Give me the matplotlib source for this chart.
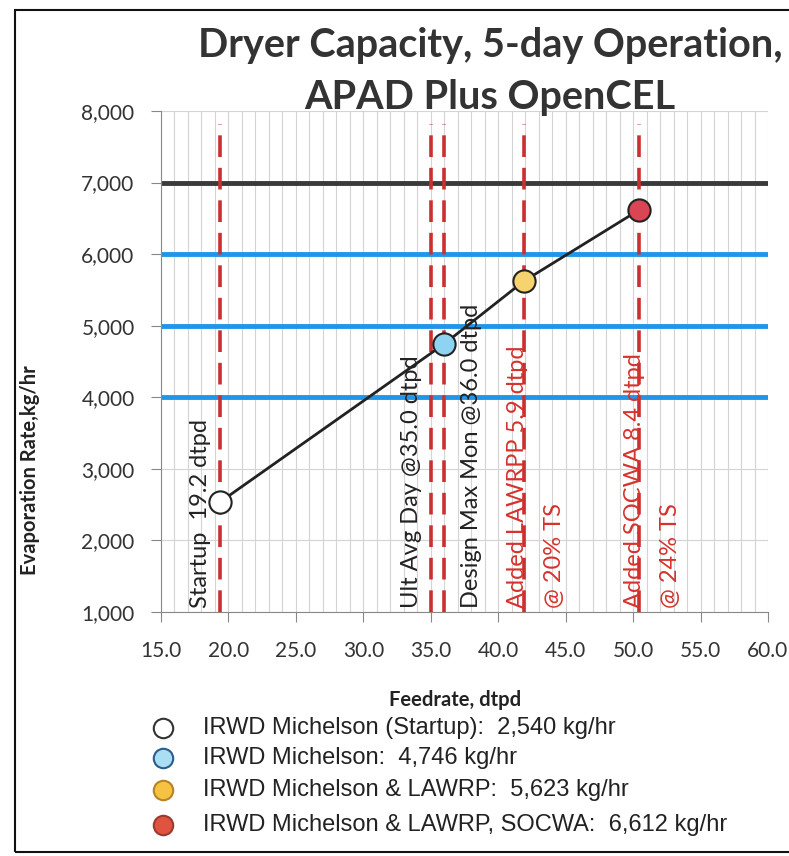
import numpy as np
import matplotlib
matplotlib.use("Agg")
import matplotlib.pyplot as plt
from matplotlib.lines import Line2D
from matplotlib.patches import Rectangle

# data
feed = [19.4, 36.0, 41.9, 50.4]          # dtpd
evap = [2540, 4746, 5623, 6612]          # kg/hr
face = ['#ffffff', '#8fd3f2', '#f6d36e', '#d94552']
edge = ['#222222', '#222222', '#222222', '#222222']
leg_face = ['#ffffff', '#a9def5', '#f5c242', '#e0533f']
leg_edge = ['#333333', '#2b5c8a', '#b5832a', '#9a3a30']
leg_text = ['IRWD Michelson (Startup):  2,540 kg/hr',
            'IRWD Michelson:  4,746 kg/hr',
            'IRWD Michelson & LAWRP:  5,623 kg/hr',
            'IRWD Michelson & LAWRP, SOCWA:  6,612 kg/hr']

vlines = [19.4, 35.0, 36.0, 41.9, 50.4]
cap_black = [7000]
cap_blue = [4000, 5000, 6000]

labels = [  # x, text, colour
    (17.9, 'Startup  19.2 dtpd', '#222222'),
    (33.6, 'Ult Avg Day @35.0 dtpd', '#222222'),
    (38.0, 'Design Max Mon @36.0 dtpd', '#222222'),
    (41.4, 'Added LAWRPP 5.9 dtpd', '#d6322c'),
    (44.2, '@ 20% TS', '#d6322c'),
    (50.1, 'Added SOCWA 8.4 dtpd', '#d6322c'),
    (52.8, '@ 24% TS', '#d6322c'),
]

W, H = 789, 856
fig = plt.figure(figsize=(W/100, H/100), dpi=100)
ax = fig.add_axes([161/W, 1-612/H, (768-161)/W, (612-111)/H])

ax.set_xlim(15, 60)
ax.set_ylim(1000, 8000)
ax.set_xticks(np.arange(15, 60.1, 5))
ax.set_xticks(np.arange(15, 60.1, 1), minor=True)
ax.set_xticklabels(['%.1f' % v for v in np.arange(15, 60.1, 5)])
ax.set_yticks(np.arange(1000, 8001, 1000))
ax.set_yticklabels(['{:,}'.format(v) for v in range(1000, 8001, 1000)])

ax.grid(True, which='both', axis='x', color='#d4d4d4', lw=0.8)
ax.grid(True, which='major', axis='y', color='#d4d4d4', lw=0.8)
ax.set_axisbelow(True)
for s in ['top', 'right']:
    ax.spines[s].set_visible(False)
ax.spines['left'].set_color('#888888')
ax.spines['bottom'].set_color('#888888')
ax.tick_params(which='major', length=7, color='#888888', labelsize=15)
ax.tick_params(axis='x', pad=14)
ax.tick_params(axis='y', pad=12)
ax.tick_params(which='minor', length=0)
for t in ax.get_xticklabels() + ax.get_yticklabels():
    t.set_fontfamily('Lato')
    t.set_color('#333333')

for y in cap_black:
    ax.axhline(y, color='#3a3a3a', lw=3.5, zorder=2)
for y in cap_blue:
    ax.axhline(y, color='#2196e8', lw=3.5, zorder=2)
for x in vlines:
    ax.axvline(x, ymin=0, ymax=0.975, color='#cc2f2f', lw=2.6,
               dashes=(6, 3), zorder=3)

ax.plot(feed, evap, color='#222222', lw=2, zorder=4)
for i in range(len(feed)):
    ax.plot(feed[i], evap[i], 'o', ms=16, mfc=face[i], mec=edge[i],
            mew=1.5, zorder=5)

for x, txt, c in labels:
    ax.text(x, 1060, txt, rotation=90, ha='center', va='bottom',
            fontsize=17, color=c, family='Lato', zorder=6)

fig.text(490/W, 1-46/H, 'Dryer Capacity, 5-day Operation,', ha='center',
         va='center', fontsize=28.5, fontweight='bold', family='Lato', color='#333333')
fig.text(490/W, 1-98/H, 'APAD Plus OpenCEL', ha='center',
         va='center', fontsize=28.5, fontweight='bold', family='Lato', color='#333333')

fig.text(30/W, 1-470/H, 'Evaporation Rate,kg/hr', rotation=90, ha='center',
         va='center', fontsize=14.5, fontweight='bold', family='Lato', color='#222222')
fig.text(455/W, 1-700/H, 'Feedrate, dtpd', ha='center', va='center',
         fontsize=14.5, fontweight='bold', family='Lato', color='#222222')

rows = [728, 758, 790, 825]
for i in range(4):
    fig.add_artist(Line2D([163/W], [1-rows[i]/H], marker='o', ms=14,
                          mfc=leg_face[i], mec=leg_edge[i], mew=1.5,
                          transform=fig.transFigure))
    fig.text(203/W, 1-rows[i]/H, leg_text[i], ha='left', va='center',
             fontsize=17, family='Liberation Sans', color='#222222')

fig.add_artist(Rectangle((15/W, 1-852/H), 1.0, (852-10)/H, fill=False,
                         ec='#111111', lw=1.5, transform=fig.transFigure))

fig.savefig('out.png', dpi=100)
